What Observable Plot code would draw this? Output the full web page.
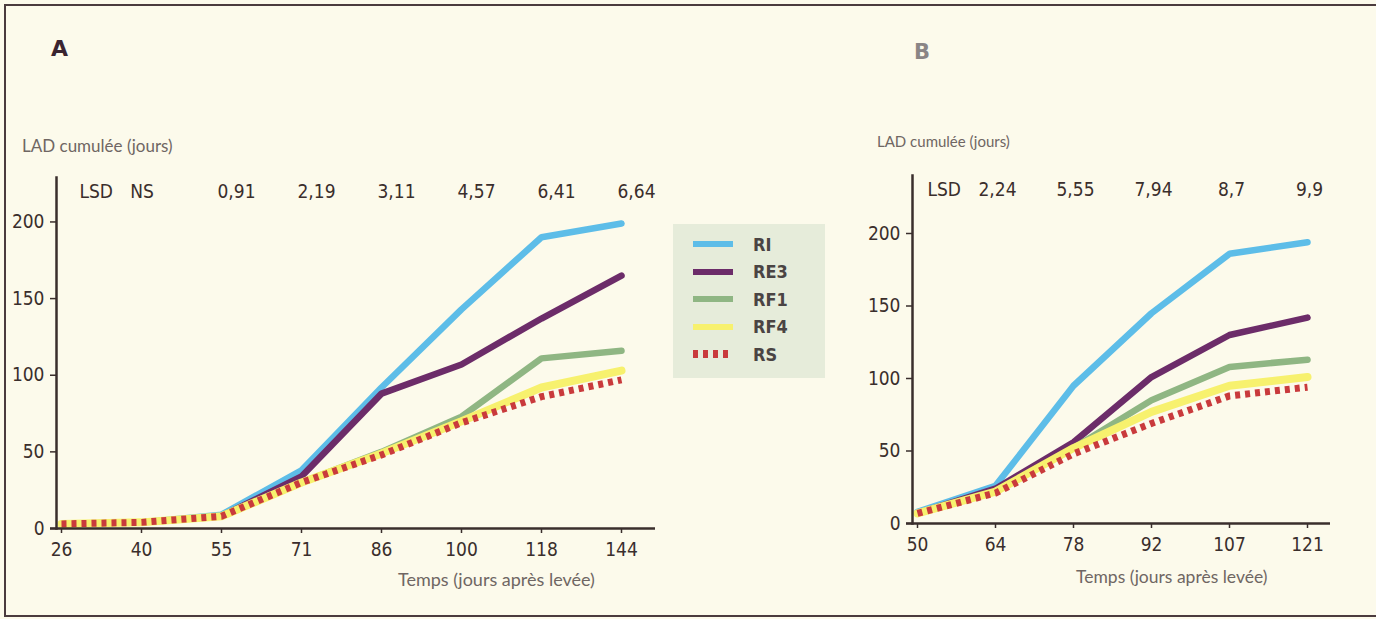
<!DOCTYPE html>
<html>
<head>
<meta charset="utf-8">
<script src="https://cdn.jsdelivr.net/npm/d3@7"></script>
<script src="https://cdn.jsdelivr.net/npm/@observablehq/plot@0.6"></script>
<style>
  html, body { margin: 0; padding: 0; background: #fcfaeb; }
  #page { position: relative; width: 1376px; height: 619px; overflow: hidden; background: #fcfaeb; }
  .abs { position: absolute; white-space: nowrap; line-height: 1; }
  .title { font-family: "DejaVu Sans", sans-serif; font-weight: bold; font-size: 22px; }
  .axlab { font-family: Lato, "Open Sans", sans-serif; color: #6f6663; }
  #legend { position: absolute; left: 673px; top: 224px; width: 152px; height: 154px; background: #e6ecda; }
  .lg-row { position: absolute; left: 20px; height: 24px; display: flex; align-items: center; }
  .lg-sw { width: 40px; height: 6px; margin-right: 20px; }
  .lg-tx { font-family: "DejaVu Sans", sans-serif; font-weight: bold; font-size: 18px; color: #4a4443; font-stretch: condensed; }
  svg text { font-family: "DejaVu Sans Condensed", "DejaVu Sans", sans-serif; font-stretch: condensed; }
</style>
</head>
<body>
<div id="page">
  <div class="abs" style="left:4px;top:4px;width:1372px;height:2px;background:#4b3b3e"></div>
  <div class="abs" style="left:4px;top:4px;width:2px;height:613px;background:#4b3b3e"></div>
  <div class="abs" style="left:4px;top:615px;width:1372px;height:2px;background:#4b3b3e"></div>

  <div id="chartA" class="abs" style="left:0;top:0"></div>
  <div id="chartB" class="abs" style="left:840px;top:0"></div>

  <div class="abs title" style="left:51px;top:38px;color:#3a2430">A</div>
  <div class="abs title" style="left:914px;top:42px;color:#8a8585;font-size:21px">B</div>

  <div class="abs axlab" style="left:22px;top:137px;font-size:17px">LAD cumulée (jours)</div>
  <div class="abs axlab" style="left:877px;top:134px;font-size:15px">LAD cumulée (jours)</div>

  <div class="abs axlab" style="left:398px;top:570px;font-size:18px">Temps (jours après levée)</div>
  <div class="abs axlab" style="left:1076px;top:568px;font-size:17.5px">Temps (jours après levée)</div>

  <div id="legend"></div>
</div>
<script>
// ---------- data ----------
const seriesNames = ["RI", "RE3", "RF1", "RF4", "RS"];
const seriesColors = ["#5dbde8", "#6c2c69", "#8fb683", "#f7f16e", "#c93a3c"];

// Panel A
const daysA = [26, 40, 55, 71, 86, 100, 118, 144];
const RI_A  = [3, 4, 9, 38, 92, 143, 190, 199];
const RE3_A = [3, 4, 8, 34, 88, 107, 137, 165];
const RF1_A = [3, 4, 8, 30, 50, 73, 111, 116];
const RF4_A = [3, 4, 8, 30, 49, 70, 92, 103];
const RS_A  = [3, 4, 8, 30, 48, 69, 86, 97];
const lsdDaysA = [55, 71, 86, 100, 118, 144];
const lsdA = ["0,91", "2,19", "3,11", "4,57", "6,41", "6,64"];

// Panel B
const daysB = [50, 64, 78, 92, 107, 121];
const RI_B  = [8, 26, 95, 145, 186, 194];
const RE3_B = [7, 24, 56, 101, 130, 142];
const RF1_B = [7, 22, 52, 85, 108, 113];
const RF4_B = [7, 22, 52, 77, 95, 101];
const RS_B  = [7, 21, 48, 69, 88, 94];
const lsdDaysB = [64, 78, 92, 107, 121];
const lsdB = ["2,24", "5,55", "7,94", "8,7", "9,9"];

const yTicks = [0, 50, 100, 150, 200];

// ---------- helpers ----------
const ink = "#3a2e2c";
function seriesMarks(days, valuesList) {
  return seriesNames.map((name, i) => {
    const rows = days.map((d, j) => ({day: d, value: valuesList[i][j]}));
    const dashed = name === "RS";
    return Plot.line(rows, {
      x: "day", y: "value",
      stroke: seriesColors[i],
      strokeWidth: dashed ? 7 : (name === "RF4" ? 8 : 6.5),
      strokeDasharray: dashed ? "5,5" : null,
      strokeLinecap: dashed ? "butt" : "round",
      strokeLinejoin: "miter"
    });
  });
}

function panel({days, values, lsdDays, lsd, lsdHead, width, marginLeft, marginRight, marginTop, marginBottom, xRange, yMax, lsdDx, headDx}) {
  return Plot.plot({
    width, height: 619,
    marginLeft, marginRight, marginTop, marginBottom,
    x: {type: "point", domain: days, range: xRange, padding: 0},
    y: {domain: [0, yMax]},
    style: {background: "transparent", fontSize: "19px", color: ink, overflow: "visible"},
    marks: [
      Plot.axisY({ticks: yTicks, tickSize: 6, tickPadding: 6, label: null, stroke: ink, strokeWidth: 1.5}),
      Plot.axisX({ticks: days, tickSize: 5, tickPadding: 9, label: null, stroke: ink, strokeWidth: 1.5}),
      ...seriesMarks(days, values),
      Plot.frame({anchor: "left", stroke: ink, strokeWidth: 2.5}),
      Plot.ruleY([0], {stroke: ink, strokeWidth: 2.5, insetLeft: -6}),
      Plot.text([lsdHead], {frameAnchor: "top-left", textAnchor: "start", dx: headDx, dy: 7, fill: ink, fontSize: 19}),
      Plot.text(lsd, {x: lsdDays, text: d => d, frameAnchor: "top", dy: 7, dx: lsdDx, fill: ink, fontSize: 19})
    ]
  });
}

// ---------- panel A ----------
document.getElementById("chartA").appendChild(panel({
  days: daysA, values: [RI_A, RE3_A, RF1_A, RF4_A, RS_A],
  lsdDays: lsdDaysA, lsd: lsdA, lsdHead: "LSD\u2003NS",
  width: 680, marginLeft: 56, marginRight: 25, marginTop: 177, marginBottom: 91,
  xRange: [60, 622], yMax: 229, lsdDx: 15, headDx: 23
}));

// ---------- panel B ----------
document.getElementById("chartB").appendChild(panel({
  days: daysB, values: [RI_B, RE3_B, RF1_B, RF4_B, RS_B],
  lsdDays: lsdDaysB, lsd: lsdB, lsdHead: "LSD",
  width: 536, marginLeft: 72, marginRight: 46, marginTop: 175, marginBottom: 96,
  xRange: [76, 467], yMax: 240, lsdDx: 2, headDx: 15
}));

// ---------- legend ----------
const legend = document.getElementById("legend");
seriesNames.forEach((name, i) => {
  const row = document.createElement("div");
  row.className = "lg-row";
  row.style.top = (8 + i * 27.5) + "px";
  const sw = document.createElement("div");
  sw.className = "lg-sw";
  if (name === "RS") {
    sw.style.background = `repeating-linear-gradient(90deg, ${seriesColors[i]} 0 5px, transparent 5px 10px)`;
    sw.style.height = "8px";
  } else {
    sw.style.background = seriesColors[i];
  }
  const tx = document.createElement("div");
  tx.className = "lg-tx";
  tx.textContent = name;
  row.appendChild(sw);
  row.appendChild(tx);
  legend.appendChild(row);
});
</script>
</body>
</html>
